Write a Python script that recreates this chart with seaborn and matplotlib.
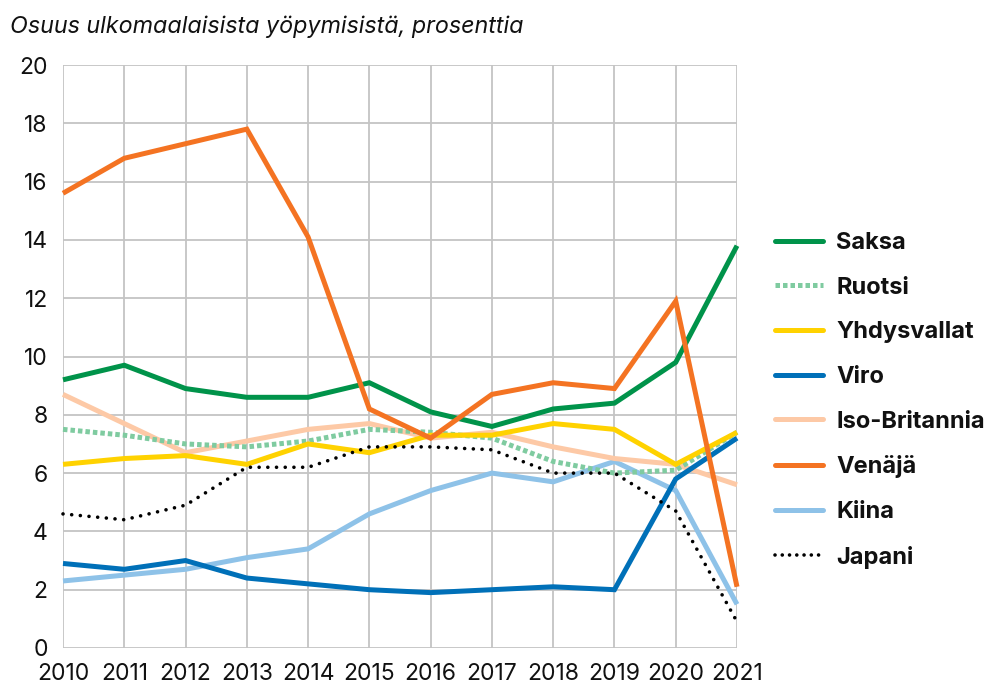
import matplotlib
matplotlib.use("Agg")
import matplotlib.pyplot as plt
import seaborn as sns
import pandas as pd
from matplotlib.lines import Line2D

years = list(range(2010, 2022))
saksa = [9.2, 9.7, 8.9, 8.6, 8.6, 9.1, 8.1, 7.6, 8.2, 8.4, 9.8, 13.8]
ruotsi = [7.5, 7.3, 7.0, 6.9, 7.1, 7.5, 7.4, 7.2, 6.4, 6.0, 6.1, 7.4]
yhdysvallat = [6.3, 6.5, 6.6, 6.3, 7.0, 6.7, 7.3, 7.3, 7.7, 7.5, 6.3, 7.4]
viro = [2.9, 2.7, 3.0, 2.4, 2.2, 2.0, 1.9, 2.0, 2.1, 2.0, 5.8, 7.2]
iso_britannia = [8.7, 7.7, 6.7, 7.1, 7.5, 7.7, 7.2, 7.4, 6.9, 6.5, 6.3, 5.6]
venaja = [15.6, 16.8, 17.3, 17.8, 14.1, 8.2, 7.2, 8.7, 9.1, 8.9, 11.9, 2.1]
kiina = [2.3, 2.5, 2.7, 3.1, 3.4, 4.6, 5.4, 6.0, 5.7, 6.4, 5.4, 1.5]
japani = [4.6, 4.4, 4.9, 6.2, 6.2, 6.9, 6.9, 6.8, 6.0, 6.0, 4.7, 0.9]

names = ["Saksa", "Ruotsi", "Yhdysvallat", "Viro", "Iso-Britannia", "Venäjä", "Kiina", "Japani"]
series = [saksa, ruotsi, yhdysvallat, viro, iso_britannia, venaja, kiina, japani]
colors = ["#00934a", "#7fcba0", "#ffd200", "#0070b8", "#fdc9a6", "#f47322", "#8ec2e8", "#000000"]

title = "Osuus ulkomaalaisista yöpymisistä, prosenttia"

rows = []
for n, s in zip(names, series):
    for y, v in zip(years, s):
        rows.append({"year": y, "value": v, "maa": n})
df = pd.DataFrame(rows)

sns.set_theme(style="white")
plt.rcParams["font.family"] = ["Inter", "DejaVu Sans"]

fig = plt.figure(figsize=(9.9, 6.89), dpi=100)
ax = fig.add_axes([63/990, 1 - 648/689, (737 - 63)/990, (648 - 65)/689])

order = ["Kiina", "Iso-Britannia", "Ruotsi", "Yhdysvallat", "Viro", "Saksa", "Venäjä", "Japani"]
for n in order:
    i = names.index(n)
    sub = df[df["maa"] == n]
    sns.lineplot(data=sub, x="year", y="value", ax=ax, color=colors[i],
                 linewidth=3.6, legend=False, clip_on=False)
    line = ax.lines[-1]
    if n == "Ruotsi":
        line.set_linestyle((0, (0.9, 0.6)))
        line.set_dash_capstyle("butt")
    elif n == "Japani":
        line.set_linewidth(2.6)
        line.set_linestyle((0, (0.01, 2.4)))
        line.set_dash_capstyle("round")
    else:
        line.set_solid_capstyle("butt")
        line.set_solid_joinstyle("miter")

ax.set_xlim(2010, 2021)
ax.set_ylim(0, 20)
ax.set_xticks(years)
ax.set_yticks(range(0, 21, 2))
ax.set_xticklabels([str(y) for y in years], fontsize=16.5)
ax.set_yticklabels([str(v) for v in range(0, 21, 2)], fontsize=16.5)
ax.grid(True, color="#c4c4c4", linewidth=1.3)
ax.set_axisbelow(True)
for sp in ax.spines.values():
    sp.set_visible(False)
ax.tick_params(axis="both", length=7, width=1.3, color="#c4c4c4", pad=4, labelcolor="#111111")
ax.set_xlabel("")
ax.set_ylabel("")

fig.text(10/990, 1 - 27/689, title, fontsize=16.8, style="italic", color="#111111",
         va="center", ha="left")

handles = []
for i, n in enumerate(names):
    if n == "Ruotsi":
        h = Line2D([], [], color=colors[i], linewidth=3.6, linestyle=(0, (0.9, 0.6)),
                   dash_capstyle="butt")
    elif n == "Japani":
        h = Line2D([], [], color=colors[i], linewidth=2.6, linestyle=(0, (0.01, 2.0)),
                   dash_capstyle="round")
    else:
        h = Line2D([], [], color=colors[i], linewidth=3.6, solid_capstyle="round")
    handles.append(h)

leg = fig.legend(handles, names, loc="upper left", bbox_to_anchor=(775/990, 1 - 232/689),
                 frameon=False, handlelength=2.05, handletextpad=0.55, labelspacing=0.96,
                 borderpad=0, borderaxespad=0,
                 prop={"size": 17, "weight": "bold"})
for t in leg.get_texts():
    t.set_color("#111111")

fig.savefig("out.png", dpi=100)
